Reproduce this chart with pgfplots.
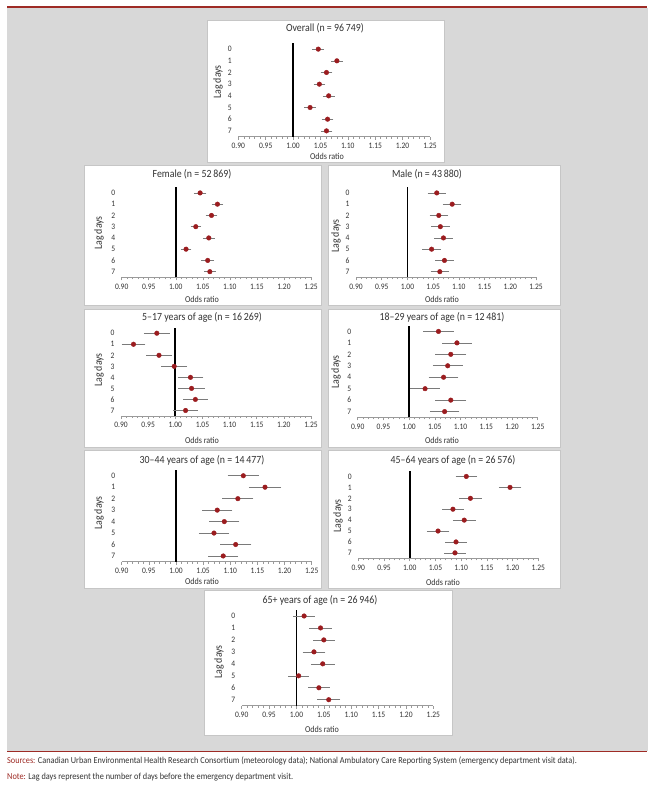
\documentclass[border=0pt]{standalone}
\usepackage{pgfplots}
\pgfplotsset{compat=1.18}
\usepackage{fontspec}
\setmainfont{Carlito}[FakeStretch=0.9]
\definecolor{bggray}{RGB}{216,216,216}
\definecolor{boxline}{HTML}{C6C6C6}
\definecolor{darkred}{HTML}{9E2B25}
\definecolor{mk}{HTML}{9B1C1F}
\definecolor{errgray}{HTML}{7A7A7A}
\definecolor{axgray}{HTML}{9A9A9A}
\definecolor{txt}{HTML}{333333}
\pgfplotsset{
  panel/.style={
    scale only axis, anchor=south west, clip=false,
    xmin=0.90, xmax=1.25, ymin=-0.5, ymax=7.5,
    xtick={0.9,0.95,1,1.05,1.1,1.15,1.2,1.25},
    minor x tick num=4,
    ytick={0,...,7}, yticklabels={7,6,5,4,3,2,1,0},
    axis x line*=bottom, axis y line*=left,
    y axis line style={draw=none}, ytick style={draw=none},
    x axis line style={draw=axgray, line width=0.6bp, -},
    xtick style={draw=axgray, line width=0.5bp},
    major tick length=3bp, minor tick length=2bp,
    tick align=outside,
    /pgf/number format/assume math mode=true,
    xticklabel style={/pgf/number format/.cd, fixed, fixed zerofill, precision=2, /tikz/.cd, font=\fontsize{8.4}{9}\selectfont, text=txt},
    yticklabel style={font=\fontsize{8.4}{9}\selectfont, text=txt},
  },
  oneline/.style={black, line width=1.7bp, no marks},
  ors/.style={only marks, mark=*, mark size=2.3bp, mark options={fill=mk, draw=mk},
    error bars/.cd, x dir=both, x explicit,
    error bar style={draw=errgray, line width=0.6bp},
    error mark options={draw=errgray, line width=0.6bp, mark size=2bp}},
}
\tikzset{
  ttl/.style={font=\fontsize{11}{12}\selectfont, text=txt},
  lbl/.style={font=\fontsize{9}{10}\selectfont, text=txt},
}
\begin{document}
\begin{tikzpicture}
\path[use as bounding box, fill=white] (0,0) rectangle (657bp,-788bp);
\path[fill=bggray, draw=bggray] (7bp,-8bp) rectangle (647bp,-750bp);
\begin{scope}[x=1bp,y=-1bp]
  \draw[darkred, line width=2bp] (7,7) -- (647,7);
  \draw[darkred, line width=1.5bp] (7,751.5) -- (647,751.5);
  \foreach \a/\b/\c/\d in {207/20/444/162, 84/165/321/305, 328/165/560/305, 84/309/321/447, 328/309/560/447, 84/450/321/588, 328/450/560/588, 204/590/452/735}{
    \filldraw[fill=white, draw=boxline, line width=0.7bp] (\a,\b) rectangle (\c,\d);
  }
  % titles
  \node[ttl] at (325,28) {Overall (n = 96\,749)};
  \node[ttl] at (192,174) {Female (n = 52\,869)};
  \node[ttl] at (427,174) {Male (n = 43\,880)};
  \node[ttl] at (202,317) {5–17 years of age (n = 16\,269)};
  \node[ttl] at (442,317) {18–29 years of age (n = 12\,481)};
  \node[ttl] at (202,460) {30–44 years of age (n = 14\,477)};
  \node[ttl] at (453,460) {45–64 years of age (n = 26\,576)};
  \node[ttl] at (320,600) {65+ years of age (n = 26\,946)};
  % x labels
  \node[lbl] at (327,156) {Odds ratio};
  \node[lbl] at (202,299) {Odds ratio};
  \node[lbl] at (442,299) {Odds ratio};
  \node[lbl] at (202,440) {Odds ratio};
  \node[lbl] at (442,440) {Odds ratio};
  \node[lbl] at (202,581) {Odds ratio};
  \node[lbl] at (443,582) {Odds ratio};
  \node[lbl] at (322,729) {Odds ratio};
  % y labels
  \node[ttl, rotate=90] at (218,82) {Lag days};
  \node[ttl, rotate=90] at (99,233) {Lag days};
  \node[ttl, rotate=90] at (336,236) {Lag days};
  \node[ttl, rotate=90] at (99,370) {Lag days};
  \node[ttl, rotate=90] at (336,372) {Lag days};
  \node[ttl, rotate=90] at (99,513) {Lag days};
  \node[ttl, rotate=90] at (338,516) {Lag days};
  \node[ttl, rotate=90] at (219,662) {Lag days};
  % footer
  \node[anchor=west, inner sep=0pt, font=\fontsize{9.2}{10}\selectfont, text=txt] at (7,760.5) {\textcolor{darkred}{Sources:} Canadian Urban Environmental Health Research Consortium (meteorology data); National Ambulatory Care Reporting System (emergency department visit data).};
  \node[anchor=west, inner sep=0pt, font=\fontsize{9.2}{10}\selectfont, text=txt] at (7,777) {\textcolor{darkred}{Note:} Lag days represent the number of days before the emergency department visit.};
\end{scope}

% Overall
\begin{axis}[panel, at={(238.3bp,-136.7bp)}, width=191.7bp, height=93.4bp]
\addplot[oneline] coordinates {(1,-0.5) (1,7.5)};
\addplot[ors] coordinates {
(1.046,7) +- (0.007,0) (1.080,6) +- (0.007,0) (1.061,5) +- (0.007,0) (1.048,4) +- (0.007,0)
(1.065,3) +- (0.007,0) (1.031,2) +- (0.007,0) (1.063,1) +- (0.007,0) (1.061,0) +- (0.007,0)};
\end{axis}
% Female
\begin{axis}[panel, at={(121.7bp,-277.3bp)}, width=189.3bp, height=90bp]
\addplot[oneline] coordinates {(1,-0.5) (1,7.5)};
\addplot[ors] coordinates {
(1.045,7) +- (0.008,0) (1.077,6) +- (0.007,0) (1.066,5) +- (0.007,0) (1.037,4) +- (0.006,0)
(1.061,3) +- (0.007,0) (1.019,2) +- (0.006,0) (1.059,1) +- (0.008,0) (1.063,0) +- (0.007,0)};
\end{axis}
% Male
\begin{axis}[panel, at={(356bp,-277.3bp)}, width=180bp, height=90bp]
\addplot[oneline] coordinates {(1,-0.5) (1,7.5)};
\addplot[ors] coordinates {
(1.057,7) +- (0.014,0) (1.087,6) +- (0.014,0) (1.061,5) +- (0.014,0) (1.064,4) +- (0.014,0)
(1.070,3) +- (0.014,0) (1.047,2) +- (0.014,0) (1.072,1) +- (0.014,0) (1.063,0) +- (0.014,0)};
\end{axis}
% 5-17
\begin{axis}[panel, at={(121bp,-416bp)}, width=190bp, height=88.3bp]
\addplot[oneline] coordinates {(1,-0.5) (1,7.5)};
\addplot[ors] coordinates {
(0.966,7) +- (0.020,0) (0.923,6) +- (0.018,0) (0.970,5) +- (0.020,0) (0.998,4) +- (0.020,0)
(1.028,3) +- (0.020,0) (1.030,2) +- (0.021,0) (1.037,1) +- (0.019,0) (1.019,0) +- (0.019,0)};
\end{axis}
% 18-29
\begin{axis}[panel, at={(357.7bp,-417.3bp)}, width=180bp, height=91.6bp]
\addplot[oneline] coordinates {(1,-0.5) (1,7.5)};
\addplot[ors] coordinates {
(1.057,7) +- (0.026,0) (1.093,6) +- (0.025,0) (1.081,5) +- (0.026,0) (1.075,4) +- (0.025,0)
(1.067,3) +- (0.025,0) (1.031,2) +- (0.025,0) (1.081,1) +- (0.026,0) (1.069,0) +- (0.025,0)};
\end{axis}
% 30-44
\begin{axis}[panel, at={(121.7bp,-561.7bp)}, width=190bp, height=91.7bp]
\addplot[oneline] coordinates {(1,-0.5) (1,7.5)};
\addplot[ors] coordinates {
(1.124,7) +- (0.025,0) (1.164,6) +- (0.026,0) (1.114,5) +- (0.025,0) (1.076,4) +- (0.024,0)
(1.089,3) +- (0.024,0) (1.070,2) +- (0.024,0) (1.110,1) +- (0.025,0) (1.087,0) +- (0.024,0)};
\end{axis}
% 45-64
\begin{axis}[panel, at={(358.3bp,-558.3bp)}, width=180bp, height=87.3bp]
\addplot[oneline] coordinates {(1,-0.5) (1,7.5)};
\addplot[ors] coordinates {
(1.110,7) +- (0.017,0) (1.195,6) +- (0.018,0) (1.118,5) +- (0.018,0) (1.084,4) +- (0.017,0)
(1.106,3) +- (0.018,0) (1.055,2) +- (0.018,0) (1.090,1) +- (0.017,0) (1.088,0) +- (0.017,0)};
\end{axis}
% 65+
\begin{axis}[panel, at={(241.7bp,-705.7bp)}, width=191.6bp, height=95.7bp]
\addplot[oneline] coordinates {(1,-0.5) (1,7.5)};
\addplot[ors] coordinates {
(1.014,7) +- (0.016,0) (1.044,6) +- (0.017,0) (1.050,5) +- (0.016,0) (1.032,4) +- (0.017,0)
(1.048,3) +- (0.018,0) (1.004,2) +- (0.015,0) (1.041,1) +- (0.016,0) (1.059,0) +- (0.017,0)};
\end{axis}
\end{tikzpicture}
\end{document}
